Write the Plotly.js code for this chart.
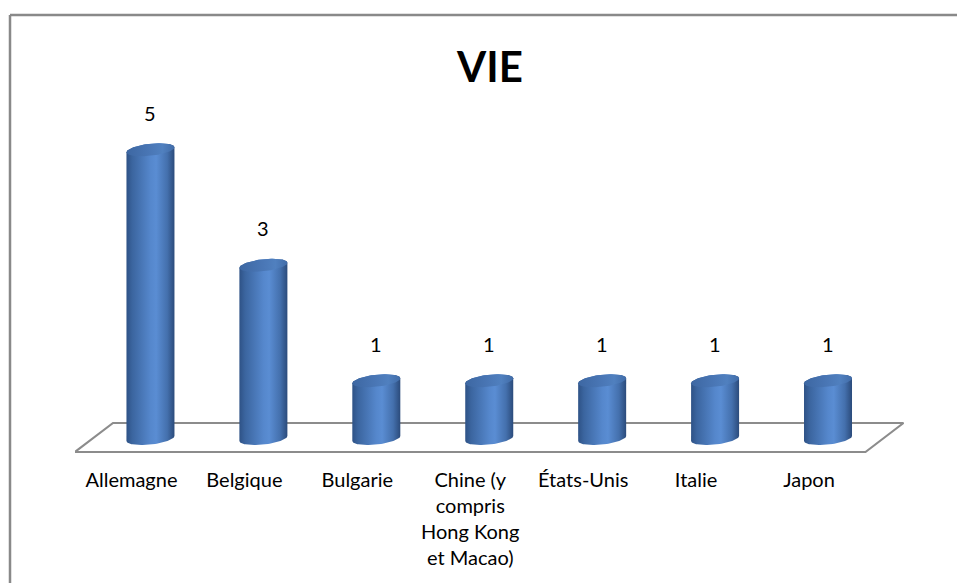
<!DOCTYPE html>
<html>
<head>
<meta charset="utf-8">
<script src="https://cdn.plot.ly/plotly-3.0.1.min.js"></script>
<style>
html,body{margin:0;padding:0;background:#fff;}
#chart{width:957px;height:583px;}
</style>
</head>
<body>
<div id="chart"></div>
<script>
// ---- data ----
const chartTitle = 'VIE';
const categories = ['Allemagne', 'Belgique', 'Bulgarie', 'Chine (y<br>compris<br>Hong Kong<br>et Macao)', 'États-Unis', 'Italie', 'Japon'];
const values = [5, 3, 1, 1, 1, 1, 1];

// ---- geometry / styling ----
const W = 957, H = 583;
const M = {l: 75, r: 52, t: 60, b: 128};
const plotW = W - M.l - M.r, plotH = H - M.t - M.b;
const xRange = [-0.5, 6.85];
const pxPerX = plotW / (xRange[1] - xRange[0]);
const pxPerY = 57.75;
const zeroPx = 438.5; // pixel row of value 0 (from top)
const yRange = [-(H - M.b - zeroPx) / pxPerY, (zeroPx - M.t) / pxPerY];

const depth = 38 / pxPerX;          // floor skew in x units
const cyl = {
  off: depth / 2,
  a: 24 / pxPerX,
  b: 6 / pxPerY,
  k: 2.5 / pxPerY
};
const floorFront = -(452 - zeroPx) / pxPerY;
const floorBack = (zeroPx - 423) / pxPerY;

const bodyScale = [[0, '#2e5286'], [0.12, '#3b659f'], [0.5, '#5587cc'], [0.62, '#5a8dd3'], [0.85, '#4470ad'], [1, '#2b4b7b']];
const capScale = [[0, '#3d67a2'], [0.5, '#4a77b6'], [0.75, '#5080bf'], [1, '#416ca8']];

function ell(cx, cy, t) {
  return [cx + cyl.a * Math.cos(t), cy + cyl.b * Math.sin(t) + cyl.k * Math.cos(t)];
}

const traces = [];
// floor
traces.push({
  type: 'scatter', mode: 'lines', hoverinfo: 'skip', showlegend: false,
  x: [xRange[0], xRange[0] + 7, xRange[0] + 7 + depth, xRange[0] + depth, xRange[0]],
  y: [floorFront, floorFront, floorBack, floorBack, floorFront],
  line: {color: '#8c8c8c', width: 2.2}
});

const N = 48;
values.forEach((v, i) => {
  const cx = i + cyl.off;
  const bx = [], by = [];
  for (let j = 0; j <= N; j++) { const p = ell(cx, 0, Math.PI + Math.PI * j / N); bx.push(p[0]); by.push(p[1]); }
  for (let j = 0; j <= N; j++) { const p = ell(cx, v, Math.PI * j / N); bx.push(p[0]); by.push(p[1]); }
  bx.push(bx[0]); by.push(by[0]);
  traces.push({
    type: 'scatter', mode: 'lines', hoverinfo: 'skip', showlegend: false,
    x: bx, y: by, fill: 'toself', line: {width: 0},
    fillgradient: {type: 'horizontal', colorscale: bodyScale}
  });
  const tx = [], ty = [];
  for (let j = 0; j <= 2 * N; j++) { const p = ell(cx, v, 2 * Math.PI * j / (2 * N)); tx.push(p[0]); ty.push(p[1]); }
  traces.push({
    type: 'scatter', mode: 'lines', hoverinfo: 'skip', showlegend: false,
    x: tx, y: ty, fill: 'toself', line: {width: 0},
    fillgradient: {type: 'horizontal', colorscale: capScale}
  });
});

const font = 'Lato, "Open Sans", sans-serif';
const annotations = values.map((v, i) => ({
  x: i + cyl.off, y: v, xref: 'x', yref: 'y', text: String(v), showarrow: false,
  yshift: 37, font: {family: font, size: 20, color: '#000'}
}));

const bx0 = (10 - M.l) / plotW, by0 = (H - M.b - 15) / plotH;
const layout = {
  width: W, height: H,
  margin: M,
  paper_bgcolor: '#ffffff', plot_bgcolor: 'rgba(0,0,0,0)',
  showlegend: false,
  title: {
    text: '<b>' + chartTitle + '</b>',
    font: {family: font, size: 42, color: '#000'},
    x: 0.5, xref: 'paper', xanchor: 'center',
    y: 1 - 67 / H, yref: 'container', yanchor: 'middle'
  },
  xaxis: {
    range: xRange, tickmode: 'array', tickvals: categories.map((c, i) => i), ticktext: categories,
    showgrid: false, zeroline: false, showline: false, ticks: '',
    tickfont: {family: font, size: 20, color: '#000'},
    ticklabelstandoff: 11, fixedrange: true
  },
  yaxis: {
    range: yRange, visible: false, showgrid: false, zeroline: false, fixedrange: true
  },
  annotations: annotations,
  shapes: [
    {type: 'line', xref: 'paper', yref: 'paper', x0: bx0, y0: by0, x1: 1.2, y1: by0, line: {color: '#898989', width: 2.5}, layer: 'above'},
    {type: 'line', xref: 'paper', yref: 'paper', x0: bx0, y0: by0, x1: bx0, y1: -0.5, line: {color: '#898989', width: 2.5}, layer: 'above'}
  ]
};

Plotly.newPlot('chart', traces, layout, {displayModeBar: false, staticPlot: true});
</script>
</body>
</html>
